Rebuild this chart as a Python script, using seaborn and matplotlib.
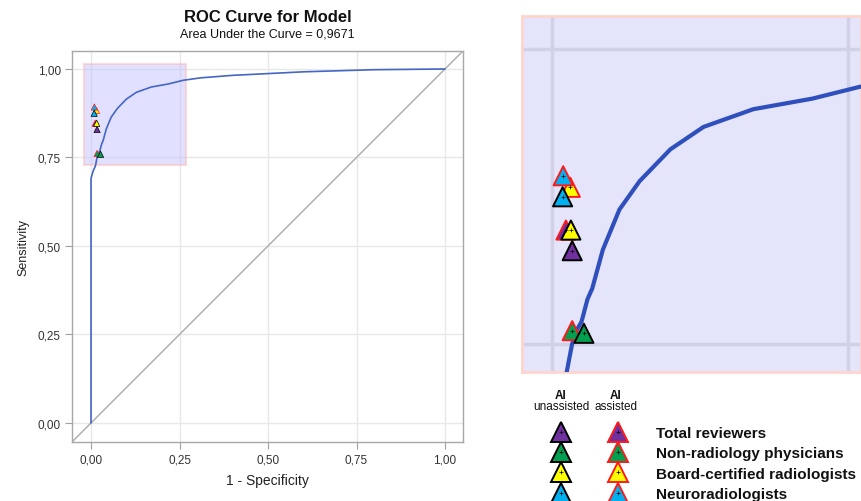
import matplotlib
matplotlib.use("Agg")
import matplotlib.pyplot as plt
from matplotlib.lines import Line2D
from matplotlib.patches import Rectangle
from matplotlib.legend_handler import HandlerTuple
from matplotlib.ticker import FuncFormatter
import pandas as pd
import seaborn as sns


# ROC curve of the model
FPR = [0.0, 0.0, 0.003, 0.007, 0.0124, 0.017, 0.021, 0.025, 0.030, 0.034, 0.043,
       0.057, 0.074, 0.100, 0.128, 0.170, 0.220, 0.260, 0.310, 0.400, 0.500,
       0.600, 0.700, 0.800, 0.900, 1.000]
TPR = [0.0, 0.690, 0.702, 0.714, 0.726, 0.750, 0.762, 0.769, 0.788, 0.797, 0.830,
       0.864, 0.888, 0.915, 0.934, 0.949, 0.958, 0.968, 0.975, 0.982, 0.987,
       0.992, 0.995, 0.998, 0.999, 1.000]
AUC = "0,9671"

# reviewer operating points
GROUPS = ["Total reviewers", "Non-radiology physicians",
          "Board-certified radiologists", "Neuroradiologists"]
GROUP_COLORS = ["#7030a0", "#00a050", "#ffff00", "#00b0f0"]
UNASSISTED_FPR = [0.0171, 0.0270, 0.0160, 0.0090]
UNASSISTED_TPR = [0.8291, 0.7591, 0.8466, 0.8748]
ASSISTED_FPR = [0.0118, 0.0171, 0.0155, 0.0095]
ASSISTED_TPR = [0.8466, 0.7613, 0.8828, 0.8926]

TICKS = [0.0, 0.25, 0.5, 0.75, 1.0]
ZOOM_BOX = (-0.02, 0.729, 0.288, 0.285)  # x, y, width, height of the zoomed area

roc = pd.DataFrame({"fpr": FPR, "tpr": TPR})
pts = pd.concat([
    pd.DataFrame({"group": GROUPS, "fpr": ASSISTED_FPR, "tpr": ASSISTED_TPR, "cond": "assisted"}),
    pd.DataFrame({"group": GROUPS, "fpr": UNASSISTED_FPR, "tpr": UNASSISTED_TPR, "cond": "unassisted"}),
])
palette = dict(zip(GROUPS, GROUP_COLORS))
edges = {"assisted": "#ff1a1a", "unassisted": "black"}

sns.set_theme(style="white")
plt.rcParams["font.family"] = ["Liberation Sans", "DejaVu Sans"]

W, H = 861, 502
fig = plt.figure(figsize=(W / 100, H / 100), dpi=100)
ax = fig.add_axes([72 / W, 1 - 443 / H, 391 / W, 391 / H])
axz = fig.add_axes([522 / W, 1 - 373 / H, 339 / W, 356 / H])

comma = FuncFormatter(lambda v, _: f"{v:.2f}".replace(".", ","))


def draw_points(a, size, plus_size, lw):
    for cond in ["assisted", "unassisted"]:
        sub = pts[pts["cond"] == cond]
        sns.scatterplot(data=sub, x="fpr", y="tpr", hue="group", palette=palette,
                        marker="^", s=size, edgecolor=edges[cond], linewidth=lw,
                        legend=False, ax=a, zorder=5)
        if plus_size:
            sns.scatterplot(data=sub, x="fpr", y="tpr", color="black", marker="+",
                            s=plus_size, linewidth=0.5, legend=False, ax=a, zorder=6)


# ---- main ROC panel
ax.grid(True, color="#e8e8e8", lw=1)
ax.set_axisbelow(True)
for s in ax.spines.values():
    s.set_color("#a8a8a8")
    s.set_linewidth(1)
ax.add_patch(Rectangle(ZOOM_BOX[:2], ZOOM_BOX[2], ZOOM_BOX[3], facecolor="#c4c4ff",
                       alpha=0.5, edgecolor="#ffb8b8", lw=1.5, zorder=2))
ax.axline((0, 0), (1, 1), color="#aaaaaa", lw=1, zorder=3)
sns.lineplot(data=roc, x="fpr", y="tpr", color="#4466c4", lw=1.2, sort=False,
             estimator=None, ax=ax, zorder=4)
draw_points(ax, 20, 0, 0.5)
ax.set_xticks(TICKS)
ax.set_yticks(TICKS)
ax.set_xlim(-0.0537, 1.0508)
ax.set_ylim(-0.0537, 1.0508)
ax.xaxis.set_major_formatter(comma)
ax.yaxis.set_major_formatter(comma)
ax.tick_params(axis="both", direction="out", length=5, width=0.8, color="#a0a0a0",
               labelsize=8.5, labelcolor="#333333", pad=3, left=True, bottom=True)
ax.set_xlabel("1 - Specificity", fontsize=10, color="#222222", labelpad=6)
ax.set_ylabel("Sensitivity", fontsize=9, color="#222222", labelpad=6)

fig.text(267.5 / W, 1 - 17 / H, "ROC Curve for Model", ha="center", va="center",
         fontsize=12, fontweight="bold", color="#111111")
fig.text(267.5 / W, 1 - 35 / H, f"Area Under the Curve = {AUC}", ha="center",
         va="center", fontsize=9, color="#111111")

# ---- zoomed panel
axz.set_facecolor("#e4e4fa")
axz.grid(True, color="#d0d0e8", lw=2.5)
axz.set_axisbelow(True)
for s in axz.spines.values():
    s.set_color("#ffd4cc")
    s.set_linewidth(2)
sns.lineplot(data=roc, x="fpr", y="tpr", color="#2f4fbd", lw=3, sort=False,
             estimator=None, ax=axz, zorder=4)
draw_points(axz, 190, 12, 1.4)
axz.set_xticks(TICKS)
axz.set_yticks(TICKS)
axz.set_xlim(-0.0253, 0.261)
axz.set_ylim(0.7263, 1.0280)
axz.tick_params(left=False, bottom=False, labelleft=False, labelbottom=False)
axz.set_xlabel("")
axz.set_ylabel("")

# ---- legend
handles = []
hmap = {}
for g, c in zip(GROUPS, GROUP_COLORS):
    tri_u = Line2D([], [], ls="none", marker="^", markersize=14, markerfacecolor=c,
                   markeredgecolor="black", markeredgewidth=1.4)
    tri_a = Line2D([], [], ls="none", marker="^", markersize=14, markerfacecolor=c,
                   markeredgecolor="#ff1a1a", markeredgewidth=1.4)
    plus = Line2D([], [], ls="none", marker="+", markersize=3.5, color="black",
                  markeredgewidth=0.5)
    outer = ((tri_u, plus), (tri_a, plus))
    hmap[outer] = HandlerTuple(ndivide=None, pad=0)
    handles.append(outer)

fs = 11
handle_px = 2 * (618 - 561)
fig.legend(handles, GROUPS, handler_map=hmap, loc="upper left",
           bbox_to_anchor=((561 - handle_px / 4) / W, 1 - 427 / H),
           frameon=False, borderpad=0, borderaxespad=0,
           handlelength=handle_px / (fs * 100 / 72), handletextpad=0.65,
           labelspacing=0.42, prop={"size": fs, "weight": "bold"},
           labelcolor="#111111")

for xc, word in [(561, "unassisted"), (616, "assisted")]:
    fig.text(xc / W, 1 - 396 / H, "AI", ha="center", va="center", fontsize=8.5,
             fontweight="bold", color="#111111")
    fig.text(xc / W, 1 - 407.5 / H, word, ha="center", va="center", fontsize=8.5,
             color="#111111")

fig.savefig("out.png", dpi=100)
